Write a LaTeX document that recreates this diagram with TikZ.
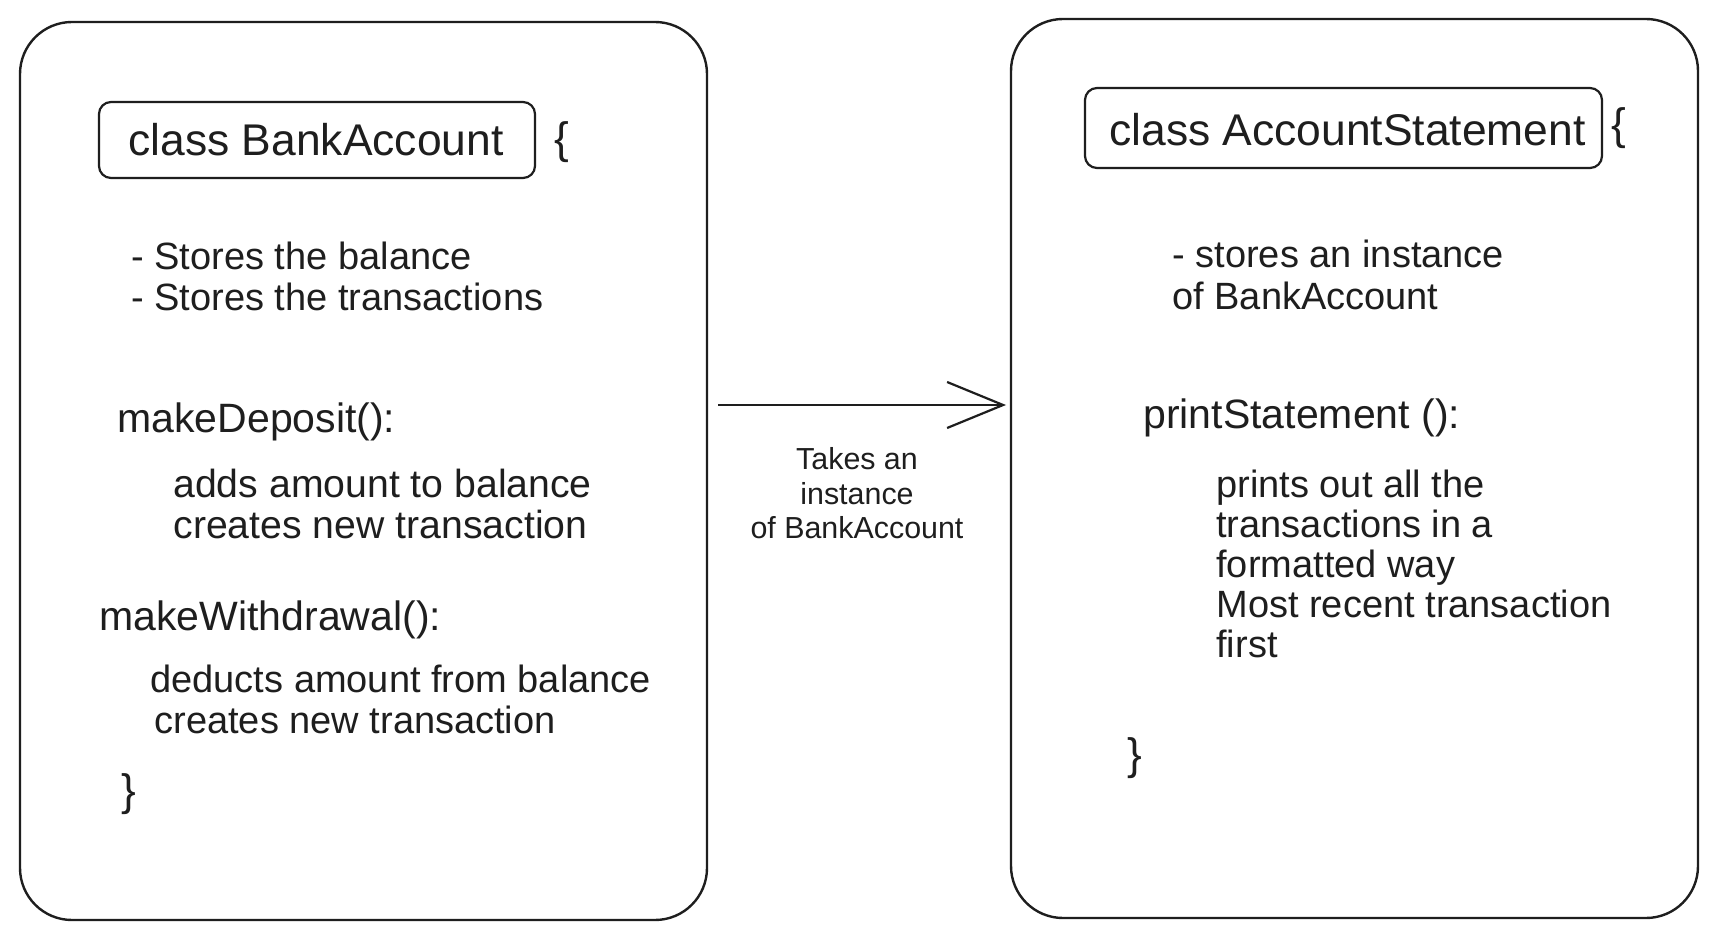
\documentclass[tikz,border=0pt]{standalone}
\usepackage{fontspec}
\setmainfont{Liberation Sans}
\usetikzlibrary{arrows.meta}
\definecolor{ink}{HTML}{1E1E1E}
\tikzset{
  bigbox/.style={draw=ink, line width=1.2pt, rounded corners=26pt, inner sep=0pt},
  titlebox/.style={draw=ink, line width=1.1pt, rounded corners=6pt, inner sep=0pt},
  txt/.style={inner sep=0pt, text=ink, anchor=base west, font=\fontsize{19}{23}\selectfont},
  txtb/.style={txt, font=\fontsize{19.6}{23}\selectfont},
  head/.style={txt, font=\fontsize{20.5}{24}\selectfont},
  ttl/.style={txt, font=\fontsize{22.2}{26}\selectfont},
  lbl/.style={inner sep=0pt, text=ink, anchor=base, font=\fontsize{15.2}{18}\selectfont},
  brace/.style={inner sep=0pt, text=ink, font=\fontsize{22}{26}\selectfont},
  conn/.style={draw=ink, line width=1.1pt, -{Straight Barb[length=28pt,width=23pt,line width=1.1pt]}}
}
\begin{document}
\begin{tikzpicture}[x=0.5pt,y=-0.5pt]
\useasboundingbox[fill=white] (0,0) rectangle (1718,941);
% big boxes
\node[bigbox, minimum width=343.5pt, minimum height=449pt] (bank) at (363.5,471) {};
\node[bigbox, minimum width=343.5pt, minimum height=449.5pt] (stmt) at (1354.5,468.5) {};
% title boxes
\node[titlebox, minimum width=218pt, minimum height=38pt] (bankt) at (317,140) {};
\node[titlebox, minimum width=258.5pt, minimum height=40pt] (stmtt) at (1343.5,128) {};
% left texts
\node[ttl] (banktxt) at (128,156) {class BankAccount};
\node[brace] (bankopen) at (562,142) {\{};
\node[txt] (b1) at (131,270) {- Stores the balance};
\node[txt] (b2) at (131,310) {- Stores the transactions};
\node[head] (dep) at (117,432) {makeDeposit():};
\node[txtb] (dep1) at (173,497) {adds amount to balance};
\node[txtb] (dep2) at (173,538) {creates new transaction};
\node[head] (wd) at (99,630) {makeWithdrawal():};
\node[txt] (wd1) at (150,692) {deducts amount from balance};
\node[txt] (wd2) at (154,733) {creates new transaction};
\node[brace] (bankclose) at (129,794) {\}};
% right texts
\node[ttl] (stmttxt) at (1109,146) {class AccountStatement};
\node[brace] (stmtopen) at (1619,128) {\{};
\node[txt] (s1) at (1172,268) {- stores an instance};
\node[txt] (s2) at (1172,309) {of BankAccount};
\node[head] (ps) at (1143,428) {printStatement ():};
\node[txt] (p1) at (1216,497) {prints out all the};
\node[txt] (p2) at (1216,537) {transactions in a};
\node[txt] (p3) at (1216,577) {formatted way};
\node[txt] (p4) at (1216,617) {Most recent transaction};
\node[txt] (p5) at (1216,657) {first};
\node[brace] (stmtclose) at (1135,758) {\}};
% connector
\coordinate (from) at (718,405);
\coordinate (to) at (1006,405);
\draw[conn] (from) -- (to);
\node[lbl] (l1) at (857,469) {Takes an};
\node[lbl] (l2) at (857,504) {instance};
\node[lbl] (l3) at (857,538) {of BankAccount};
\end{tikzpicture}
\end{document}
